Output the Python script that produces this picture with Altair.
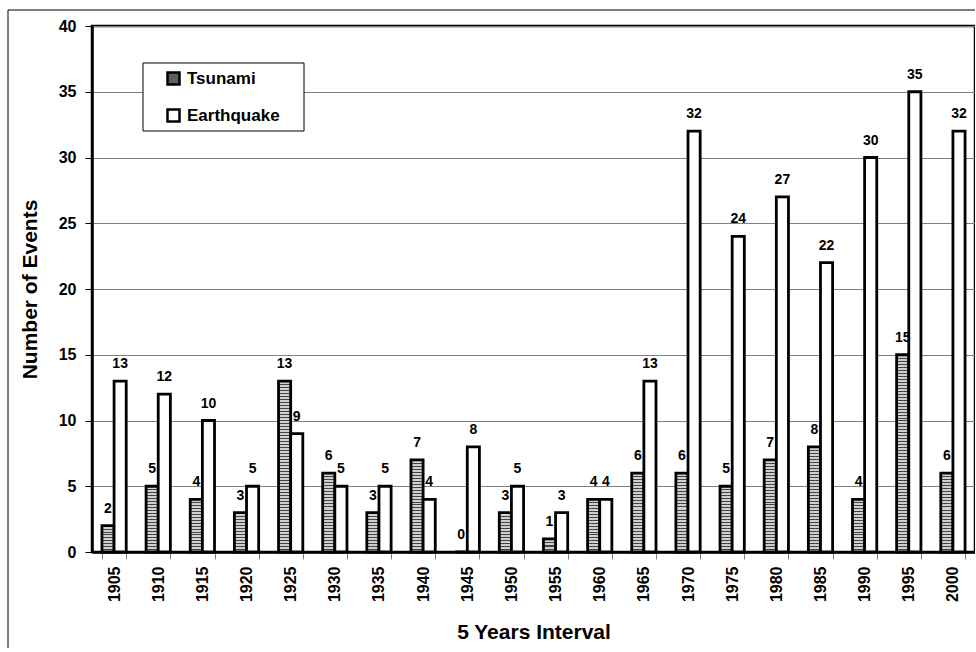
import altair as alt
import pandas as pd

years = ["1905", "1910", "1915", "1920", "1925", "1930", "1935", "1940", "1945", "1950",
         "1955", "1960", "1965", "1970", "1975", "1980", "1985", "1990", "1995", "2000"]
tsunami = [2, 5, 4, 3, 13, 6, 3, 7, 0, 3, 1, 4, 6, 6, 5, 7, 8, 4, 15, 6]
earthquake = [13, 12, 10, 5, 9, 5, 5, 4, 8, 5, 3, 4, 13, 32, 24, 27, 22, 30, 35, 32]
series = ["Tsunami", "Earthquake"]

rows = []
for y, t, e in zip(years, tsunami, earthquake):
    rows.append({"Year": y, "Series": "Tsunami", "Events": t})
    rows.append({"Year": y, "Series": "Earthquake", "Events": e})
df = pd.DataFrame(rows)

FONT = "Liberation Sans"
W, H = 883, 526
PPU = H / 40.0

# striped fill for Tsunami bars (horizontal hatch), one gradient per bar height
def stripes(v):
    n = max(1, round(v * PPU / 3.0))
    stops = []
    for i in range(n):
        a = i / n
        b = (i + 1.0 / 3.0) / n
        c = (i + 1) / n
        stops += [{"offset": a, "color": "#444444"}, {"offset": b, "color": "#444444"},
                  {"offset": b, "color": "#cfcfcf"}, {"offset": c, "color": "#cfcfcf"}]
    return {"gradient": "linear", "x1": 0, "y1": 0, "x2": 0, "y2": 1, "stops": stops}

conds = [{"test": f"datum.Series === 'Tsunami' && datum.Events === {v}", "value": stripes(v)}
         for v in sorted(set(tsunami)) if v > 0]

x_enc = alt.X("Year:N", sort=years,
              scale=alt.Scale(paddingInner=0.45, paddingOuter=0.225),
              axis=alt.Axis(labelAngle=-90, labelFont=FONT, labelFontSize=16, labelFontWeight="bold",
                            labelColor="black", labelPadding=7, tickBand="extent", tickSize=7,
                            tickColor="#808080", domainColor="black", domainWidth=2.5, grid=False,
                            title="5 Years Interval", titleFont=FONT, titleFontSize=21,
                            titleFontWeight="bold", titleColor="black", titlePadding=20))
xo_enc = alt.XOffset("Series:N", sort=series, scale=alt.Scale(paddingInner=0, paddingOuter=0))
y_enc = alt.Y("Events:Q", scale=alt.Scale(domain=[0, 40], nice=False),
              axis=alt.Axis(values=list(range(0, 41, 5)), labelFont=FONT, labelFontSize=16,
                            labelFontWeight="bold", labelColor="black", labelPadding=9,
                            tickSize=7, tickColor="black", domainColor="black", domainWidth=2.5,
                            gridColor="#808080", gridWidth=1,
                            title="Number of Events", titleFont=FONT, titleFontSize=21,
                            titleFontWeight="bold", titleColor="black", titlePadding=18))

frame = alt.Chart(alt.Data(values=[{"a": 1}])).mark_rect(
    fill=None, stroke="black", strokeWidth=1
).encode(x=alt.value(-84), y=alt.value(-16), x2=alt.value(1100), y2=alt.value(900))

legend_box = alt.Chart(alt.Data(values=[{"a": 1}])).mark_rect(
    fill="white", stroke="black", strokeWidth=1
).encode(x=alt.value(51), y=alt.value(37), x2=alt.value(212), y2=alt.value(105))

bars = alt.Chart(df).mark_bar(stroke="black", strokeWidth=2.8).encode(
    x=x_enc,
    xOffset=xo_enc,
    y=y_enc,
    fill=alt.Fill("Series:N",
                  scale=alt.Scale(domain=series, range=["#5e5e5e", "white"]),
                  legend=alt.Legend(orient="none", legendX=73, legendY=44, title=None,
                                    symbolType="square", symbolSize=144, symbolStrokeColor="black",
                                    symbolStrokeWidth=2.5, labelFont=FONT, labelFontSize=17,
                                    labelFontWeight="bold", labelColor="black", labelOffset=5,
                                    rowPadding=14, padding=0),
                  condition=conds),
)

labels = alt.Chart(df).mark_text(
    font=FONT, fontSize=14, fontWeight="bold", color="black", baseline="alphabetic", dy=-13
).encode(x=alt.X("Year:N", sort=years), xOffset=alt.XOffset("Series:N", sort=series),
         y=alt.Y("Events:Q"), text=alt.Text("Events:Q"))

chart = alt.layer(frame, bars, labels, legend_box).properties(
    width=W, height=H,
    autosize=alt.AutoSizeParams(type="none"),
    padding={"left": 92, "top": 26, "right": 0, "bottom": 96},
    background="white",
).configure_view(stroke="black", strokeWidth=2.5)

chart.save("out.html", embed_options={"renderer": "svg", "actions": False})
